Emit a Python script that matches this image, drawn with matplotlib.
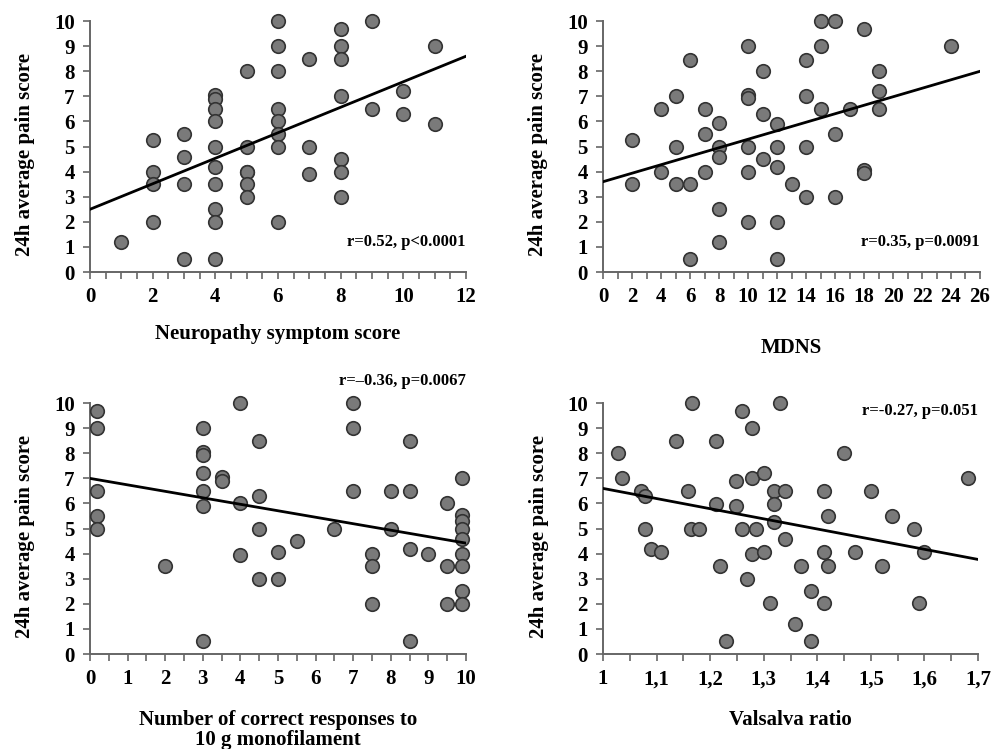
import matplotlib
matplotlib.use("Agg")
import matplotlib.pyplot as plt
from matplotlib.ticker import MultipleLocator, FuncFormatter
import numpy as np

plt.rcParams['font.family'] = 'Liberation Serif'
plt.rcParams['font.weight'] = 'bold'

# panel A: neuropathy symptom score
nss_x = [1, 2, 2, 2, 2, 3, 3, 3, 3,
         4, 4, 4, 4, 4, 4, 4, 4, 4, 4,
         5, 5, 5, 5, 5, 5,
         6, 6, 6, 6, 6, 6, 6, 6,
         7, 7, 7, 8, 8, 8, 8, 8, 8, 8,
         9, 9, 10, 10, 11, 11]
nss_y = [1.2, 5.25, 4.0, 3.5, 2.0, 5.5, 4.6, 3.5, 0.5,
         7.05, 6.9, 6.5, 6.0, 5.0, 4.2, 3.5, 2.5, 2.0, 0.5,
         8.0, 5.0, 4.0, 4.0, 3.5, 3.0,
         10.0, 9.0, 8.0, 6.5, 6.0, 5.5, 5.0, 2.0,
         8.5, 5.0, 3.9, 9.7, 9.0, 8.5, 7.0, 4.5, 4.0, 3.0,
         10.0, 6.5, 7.2, 6.3, 9.0, 5.9]
nss_fit_x = [0, 12]
nss_fit_y = [2.5, 8.6]

# panel B: MDNS
mdns_x = [2, 2, 4, 4, 5, 5, 5, 6, 6, 6,
          7, 7, 7, 8, 8, 8, 8, 8,
          10, 10, 10, 10, 10, 10, 11, 11, 11,
          12, 12, 12, 12, 12, 13, 14, 14, 14, 14,
          15, 15, 15, 16, 16, 16, 17, 18, 18, 18,
          19, 19, 19, 24]
mdns_y = [5.25, 3.5, 6.5, 4.0, 7.0, 5.0, 3.5, 8.45, 3.5, 0.5,
          6.5, 5.5, 4.0, 5.95, 5.0, 4.6, 2.5, 1.2,
          9.0, 7.05, 6.95, 5.0, 4.0, 2.0, 8.0, 6.3, 4.5,
          5.9, 5.0, 4.2, 2.0, 0.5, 3.5, 8.45, 7.0, 5.0, 3.0,
          10.0, 9.0, 6.5, 10.0, 5.5, 3.0, 6.5, 9.7, 4.05, 3.95,
          8.0, 7.2, 6.5, 9.0]
mdns_fit_x = [0, 26]
mdns_fit_y = [3.6, 8.0]

# panel C: monofilament responses
mono_x = [0.2, 0.2, 0.2, 0.2, 0.2, 2.0,
          3.0, 3.0, 3.0, 3.0, 3.0, 3.0, 3.0, 3.5, 3.5,
          4.0, 4.0, 4.0, 4.5, 4.5, 4.5, 4.5, 5.0, 5.0, 5.5, 6.5,
          7.0, 7.0, 7.0, 7.5, 7.5, 7.5, 8.0, 8.0,
          8.5, 8.5, 8.5, 8.5, 9.0, 9.5, 9.5, 9.5,
          9.9, 9.9, 9.9, 9.9, 9.9, 9.9, 9.9, 9.9, 9.9]
mono_y = [9.7, 9.0, 6.5, 5.5, 5.0, 3.5,
          9.0, 8.05, 7.95, 7.2, 6.5, 5.9, 0.5, 7.05, 6.9,
          10.0, 6.0, 3.95, 8.5, 6.3, 5.0, 3.0, 4.05, 3.0, 4.5, 5.0,
          10.0, 9.0, 6.5, 4.0, 3.5, 2.0, 6.5, 5.0,
          8.5, 6.5, 4.2, 0.5, 4.0, 6.0, 3.5, 2.0,
          7.0, 5.55, 5.3, 5.0, 4.6, 4.0, 3.5, 2.5, 2.0]
mono_fit_x = [0, 10]
mono_fit_y = [7.0, 4.42]

# panel D: Valsalva ratio
vals_x = [1.028, 1.036, 1.07, 1.078, 1.078, 1.089, 1.109, 1.137, 1.158, 1.167,
          1.165, 1.179, 1.21, 1.21, 1.218, 1.23, 1.249, 1.249, 1.26, 1.26,
          1.268, 1.278, 1.278, 1.278, 1.286, 1.30, 1.30, 1.311, 1.319, 1.319,
          1.319, 1.33, 1.339, 1.339, 1.359, 1.369, 1.388, 1.389, 1.413, 1.413,
          1.413, 1.42, 1.42, 1.45, 1.471, 1.50, 1.521, 1.54, 1.58, 1.59,
          1.60, 1.682]
vals_y = [8.0, 7.0, 6.5, 6.3, 5.0, 4.2, 4.05, 8.5, 6.5, 10.0,
          5.0, 5.0, 8.5, 5.97, 3.5, 0.5, 6.9, 5.9, 9.7, 5.0,
          3.0, 9.0, 7.0, 3.97, 5.0, 7.2, 4.05, 2.04, 6.5, 5.97,
          5.27, 10.0, 6.5, 4.6, 1.2, 3.5, 2.5, 0.5, 6.5, 4.05,
          2.04, 5.5, 3.5, 8.0, 4.05, 6.5, 3.5, 5.5, 5.0, 2.04,
          4.05, 7.0]
vals_fit_x = [1.0, 1.7]
vals_fit_y = [6.6, 3.77]

panels = [
    dict(x=nss_x, y=nss_y, fx=nss_fit_x, fy=nss_fit_y, xlim=(0, 12), major=2, minor=0.5,
         xlabel='Neuropathy symptom score', lpad=12, stat='r=0.52, p<0.0001', sxy=(1.0, 0.12),
         rect=[0.0907, 0.6368, 0.379, 0.335], comma=False),
    dict(x=mdns_x, y=mdns_y, fx=mdns_fit_x, fy=mdns_fit_y, xlim=(0, 26), major=2, minor=1,
         xlabel='MDNS', lpad=22, stat='r=0.35, p=0.0091', sxy=(1.0, 0.12),
         rect=[0.6079, 0.6368, 0.380, 0.335], comma=False),
    dict(x=mono_x, y=mono_y, fx=mono_fit_x, fy=mono_fit_y, xlim=(0, 10), major=1, minor=0.5,
         xlabel='Number of correct responses to\n10 g monofilament', lpad=15,
         stat='r=\u20130.36, p=0.0067', sxy=(1.0, 1.09),
         rect=[0.0907, 0.1268, 0.379, 0.335], comma=False),
    dict(x=vals_x, y=vals_y, fx=vals_fit_x, fy=vals_fit_y, xlim=(1.0, 1.7), major=0.1, minor=0.05,
         xlabel='Valsalva ratio', lpad=15, stat='r=-0.27, p=0.051', sxy=(1.0, 0.968),
         rect=[0.6079, 0.1268, 0.378, 0.335], comma=True),
]

fig = plt.figure(figsize=(9.92, 7.49), dpi=100)

for p in panels:
    ax = fig.add_axes(p['rect'])
    ax.scatter(p['x'], p['y'], s=95, c='#7a7a7a', edgecolors='#333333',
               linewidths=1.2, zorder=3, clip_on=False)
    ax.plot(p['fx'], p['fy'], color='black', lw=2.0, zorder=4)
    ax.set_xlim(*p['xlim'])
    ax.set_ylim(0, 10)
    ax.xaxis.set_major_locator(MultipleLocator(p['major']))
    ax.xaxis.set_minor_locator(MultipleLocator(p['minor']))
    ax.yaxis.set_major_locator(MultipleLocator(1))
    if p['comma']:
        ax.xaxis.set_major_formatter(FuncFormatter(
            lambda v, pos: ('%g' % round(v, 2)).replace('.', ',')))
    for s in ['top', 'right']:
        ax.spines[s].set_visible(False)
    for s in ['left', 'bottom']:
        ax.spines[s].set_color('#666666')
        ax.spines[s].set_linewidth(1.4)
    ax.tick_params(which='both', colors='#666666', width=1.2, labelcolor='black',
                   labelsize=15, pad=6, length=5)
    ax.set_ylabel('24h average pain score', fontsize=15, fontweight='bold')
    ax.yaxis.set_label_coords(-0.145, 0.47)
    ax.set_xlabel(p['xlabel'], fontsize=15, fontweight='bold', labelpad=p['lpad'],
                  linespacing=1.0)
    ax.text(p['sxy'][0], p['sxy'][1], p['stat'], transform=ax.transAxes,
            ha='right', va='center', fontsize=12, fontweight='bold')

fig.savefig('out.png', dpi=100)
